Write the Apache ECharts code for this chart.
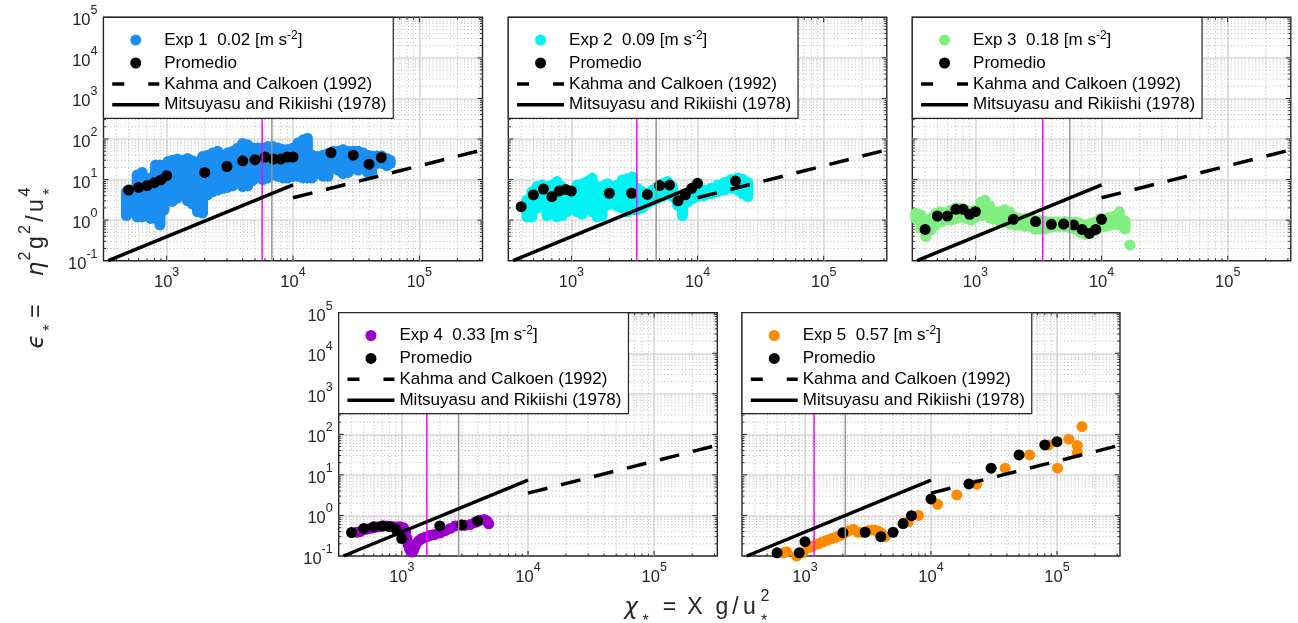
<!DOCTYPE html>
<html>
<head>
<meta charset="utf-8">
<script src="https://cdn.jsdelivr.net/npm/echarts@6/dist/echarts.min.js"></script>
<style>
  html, body { margin: 0; padding: 0; background: #fff; }
  #chart { width: 1298px; height: 623px; }
</style>
</head>
<body>
<div id="chart"></div>
<script>
// ---------------- data ----------------
const expLabels = ['Exp 1  0.02', 'Exp 2  0.09', 'Exp 3  0.18', 'Exp 4  0.33', 'Exp 5  0.57'];

// Exp 1-3: spread of the measurements at each fetch  [chi, lowest eps, highest eps]
const exp1Cols = [
  [480, 1.3, 5], [524, 1.6, 5.5], [584, 1.2, 13], [640, 1.2, 15], [702, 1.9, 9], [746, 1.1, 11],
  [818, 1.1, 23], [885, 0.76, 23], [953, 1.8, 19], [1025, 3.4, 28], [1110, 2.9, 30], [1216, 3.5, 32],
  [1332, 4.2, 30], [1460, 3.0, 33], [1600, 2.5, 29], [1755, 1.6, 27], [1923, 1.5, 37], [2107, 4.2, 40],
  [2310, 5, 45], [2530, 5.5, 50], [2775, 6, 40], [3040, 6.4, 45], [3330, 7, 50], [3650, 8.5, 60],
  [4000, 6.7, 78], [4384, 7, 72], [4804, 9.5, 60], [5265, 13, 60], [5770, 10, 60], [6322, 11, 65],
  [6930, 13, 65], [7595, 12, 60], [8325, 11, 55], [9120, 11, 55], [10000, 12, 60], [10960, 12, 80],
  [12000, 11, 94], [13000, 11, 105], [14200, 11, 40], [15570, 14, 37], [17300, 12, 40], [18940, 12, 44],
  [20760, 19, 50], [22750, 17, 50], [24930, 14, 55], [27330, 15, 50], [29950, 19, 50], [32830, 17, 50],
  [35980, 19, 45], [38960, 15, 40], [41960, 14, 38], [46000, 25, 38], [50400, 25, 38], [55300, 22, 33],
  [58800, 25, 30]
];
const exp2Cols = [
  [444, 1.2, 3.1], [486, 1.2, 5.0], [533, 1.95, 6.7], [584, 2.35, 7.3], [640, 1.3, 6.7], [702, 1.4, 7.3],
  [769, 1.2, 8.9], [843, 1.3, 6.7], [924, 1.62, 5.5], [1012, 1.9, 5.0], [1110, 1.6, 7.3], [1216, 1.4, 7.9],
  [1333, 2.0, 8.9], [1460, 1.6, 10.7], [1600, 1.2, 6.7], [1754, 1.3, 6.7], [1922, 2.35, 7.9], [2107, 2.6, 6.7],
  [2309, 2.2, 7.3], [2531, 2.0, 9.7], [2774, 1.6, 10.5], [3041, 1.8, 11.5], [3333, 1.8, 6.1], [3652, 2.0, 5.0],
  [4003, 2.6, 4.6], [4387, 3.0, 5.5], [4808, 3.4, 6.7], [5270, 3.8, 7.9], [5776, 4.2, 8.9], [6330, 3.8, 6.7],
  [6938, 2.35, 3.8], [7604, 1.3, 3.4], [8334, 2.8, 4.2], [9134, 3.4, 5.0], [10010, 3.8, 5.5], [11260, 4.0, 5.5],
  [12780, 4.4, 6.1], [14450, 5.0, 7.3], [16360, 5.5, 8.5], [18440, 6.1, 10], [20850, 5.5, 11], [22850, 4.4, 10],
  [25040, 3.8, 8.5]
];
const exp3Cols = [
  [337, 1.1, 1.47], [370, 0.63, 1.34], [405, 0.39, 1.0], [444, 0.57, 1.1], [486, 0.76, 1.47], [533, 0.9, 1.62],
  [584, 1.0, 1.5], [640, 1.0, 1.8], [702, 1.1, 2.0], [769, 1.2, 2.0], [843, 1.1, 1.8], [924, 1.0, 1.6],
  [1012, 1.2, 1.8], [1110, 1.3, 2.8], [1192, 1.4, 3.1], [1292, 1.15, 2.3], [1416, 1.05, 1.6], [1553, 0.95, 1.6],
  [1703, 0.9, 1.8], [1866, 0.8, 1.6], [2046, 0.75, 1.2], [2243, 0.75, 1.1], [2459, 0.7, 1.1], [2696, 0.7, 1.1],
  [2955, 0.6, 1.0], [3240, 0.6, 1.0], [3552, 0.6, 0.95], [3894, 0.65, 0.9], [4269, 0.7, 0.9], [4680, 0.7, 0.9],
  [5130, 0.7, 0.92], [5625, 0.65, 0.9], [6167, 0.6, 0.9], [6760, 0.5, 0.83], [7410, 0.45, 0.76], [8125, 0.47, 0.83],
  [8900, 0.55, 0.9], [9760, 0.65, 1.1], [10700, 0.7, 1.1], [11730, 0.75, 1.2], [12860, 0.8, 1.3], [13820, 0.75, 1.6],
  [15350, 0.6, 0.95], [16790, 0.245, 0.245]
];
// Exp 4-5: individual measurements [chi, eps]
const exp4Pts = [
  [439, 0.384], [467, 0.40], [496, 0.44], [527, 0.46], [560, 0.48], [596, 0.50], [633, 0.52], [673, 0.53],
  [715, 0.55], [760, 0.55], [808, 0.54], [859, 0.53], [913, 0.52], [970, 0.53], [1031, 0.50], [1076, 0.40],
  [1100, 0.27], [1123, 0.19], [1150, 0.15], [1179, 0.13], [1210, 0.125], [1238, 0.14], [1270, 0.17], [1300, 0.2],
  [1365, 0.24], [1442, 0.27], [1532, 0.29], [1628, 0.31], [1730, 0.33], [1840, 0.34], [2017, 0.37], [2210, 0.42],
  [2422, 0.48], [2654, 0.55], [2909, 0.58], [3188, 0.57], [3493, 0.6], [3828, 0.68], [4195, 0.77], [4513, 0.8],
  [4750, 0.72], [4883, 0.62]
];
const exp5Pts = [
  [680, 0.12], [714, 0.128], [858, 0.1], [960, 0.12], [1063, 0.16], [1130, 0.17], [1201, 0.187], [1280, 0.2],
  [1357, 0.218], [1440, 0.235], [1533, 0.25], [1630, 0.27], [1732, 0.284], [1840, 0.31], [1957, 0.33], [2080, 0.37],
  [2210, 0.415], [2420, 0.456], [2650, 0.384], [2900, 0.384], [3150, 0.42], [3387, 0.44], [3600, 0.43], [3830, 0.41],
  [4050, 0.36], [4325, 0.30], [6600, 0.7], [7950, 1.0], [11270, 1.89], [16030, 3.2], [23100, 5.9], [38800, 14.6],
  [60700, 31], [85900, 55], [101000, 14.6], [124000, 76], [145000, 53], [145000, 35], [158000, 156]
];

// bin averages ("Promedio")
const prom1 = [[500, 5.5], [600, 6.4], [700, 7.1], [800, 8.4], [900, 9.8], [1000, 12.5], [2000, 15], [3000, 21],
  [4000, 29], [5000, 31], [6000, 36], [7000, 32], [8000, 32], [9000, 36], [10000, 36], [20000, 46], [30000, 40],
  [40000, 24], [50000, 35]];
const prom2 = [[400, 2.15], [500, 4.2], [600, 5.85], [700, 3.8], [800, 5.2], [900, 5.7], [1000, 5.2], [2000, 4.6],
  [3000, 4.6], [4000, 4.3], [5000, 7.1], [6000, 7.3], [7000, 3.0], [8000, 4.2], [9000, 6.1], [10000, 8.1], [20000, 9.2]];
const prom3 = [[400, 0.59], [500, 1.26], [600, 1.26], [700, 1.85], [800, 1.85], [900, 1.39], [1000, 1.62], [2000, 1.05],
  [3000, 0.92], [4000, 0.79], [5000, 0.80], [6000, 0.76], [7000, 0.59], [8000, 0.47], [9000, 0.59], [10000, 1.05]];
const prom4 = [[400, 0.38], [500, 0.48], [600, 0.53], [700, 0.55], [800, 0.53], [900, 0.455], [1000, 0.27],
  [2000, 0.55], [3000, 0.58], [4000, 0.73]];
const prom5 = [[600, 0.12], [900, 0.12], [1000, 0.226], [2000, 0.377], [3000, 0.385], [4000, 0.30], [5000, 0.385],
  [6000, 0.63], [7000, 0.99], [10000, 2.55], [20000, 6.0], [30000, 14.6], [50000, 31], [80000, 55], [100000, 66]];

// reference growth curves
const kahmaLine = [[10000, 3.55], [316228, 54]];
const mitsuLine = [[345, 0.1], [10000, 7.4]];

// characteristic fetches per experiment
const magentaX = [5700, 3300, 3420, 1580, 1180];
const grayX = [6800, 4700, 5600, 2820, 2090];

// axis ranges and tick positions
const xRange = [316.2278, 316227.8];
const yRange = [0.1, 100000];
const xMajor = [1000, 10000, 100000];
const yMajor = [1, 10, 100, 1000, 10000];
const xMinor = [400, 500, 600, 700, 800, 900, 2000, 3000, 4000, 5000, 6000, 7000, 8000, 9000,
  20000, 30000, 40000, 50000, 60000, 70000, 80000, 90000, 200000, 300000];
const yMinor = [0.2, 0.3, 0.4, 0.5, 0.6, 0.7, 0.8, 0.9, 2, 3, 4, 5, 6, 7, 8, 9,
  20, 30, 40, 50, 60, 70, 80, 90, 200, 300, 400, 500, 600, 700, 800, 900,
  2000, 3000, 4000, 5000, 6000, 7000, 8000, 9000, 20000, 30000, 40000, 50000, 60000, 70000, 80000, 90000];

// ---------------- styling ----------------
const FONT = '"Liberation Sans", Arial, sans-serif';
const INK = '#262626';
const expColors = ['#1b8ef2', '#00f2f2', '#80ee80', '#9a00cc', '#ff8a00'];
const expNames = expLabels.map(l => l + ' [m s-2]');
const KAHMA = 'Kahma and Calkoen (1992)';
const MITSU = 'Mitsuyasu and Rikiishi (1978)';
const PROM = 'Promedio';

// axes boxes: [left, top, width, height]
const boxes = [
  [103.5, 17.3, 379, 243.4],
  [508.3, 17.3, 378.5, 243.4],
  [912.3, 17.3, 378.5, 243.4],
  [338.7, 312.7, 378.6, 243.3],
  [742, 312.7, 378, 243.3]
];
const showYLabels = [true, false, false, true, false];

function powLabel(v) {
  const e = Math.log10(v), n = Math.round(e);
  if (Math.abs(e - n) > 1e-6) return '';
  return '{b|10}{s|' + n + '}';
}
const powRich = {
  b: { fontFamily: FONT, fontSize: 16.5, color: INK, lineHeight: 16, padding: [7, 0, 0, 0] },
  s: { fontFamily: FONT, fontSize: 12.5, color: INK, lineHeight: 12, padding: [0, 0, 13, 0] }
};

const grids = boxes.map(b => ({
  left: b[0], top: b[1], width: b[2], height: b[3],
  show: true, backgroundColor: '#fff', borderColor: INK, borderWidth: 1.4
}));

const majorGrid = { show: true, showMinLine: false, showMaxLine: false, lineStyle: { color: '#dadada', width: 1.6 } };

const xAxes = boxes.map((b, i) => ({
  type: 'log', logBase: 10, gridIndex: i, min: xRange[0], max: xRange[1],
  axisLine: { show: false }, axisTick: { show: false },
  splitLine: majorGrid,
  axisLabel: { formatter: powLabel, rich: powRich, margin: 10, showMinLabel: false, showMaxLabel: false }
}));
const yAxes = boxes.map((b, i) => ({
  type: 'log', logBase: 10, gridIndex: i, min: yRange[0], max: yRange[1],
  axisLine: { show: false }, axisTick: { show: false },
  splitLine: majorGrid,
  axisLabel: { show: showYLabels[i], formatter: powLabel, rich: powRich, margin: 6 }
}));

// dotted minor grid plus inward tick marks on all four sides
const minorStyle = { stroke: '#a6a6a6', lineWidth: 0.8, lineDash: [1, 2.5] };
function gridMarks(i, values, dir, minor) {
  return {
    type: 'custom', xAxisIndex: i, yAxisIndex: i, silent: true, z: 1,
    data: values.map(v => dir === 'x' ? [v, 1] : [1000, v]),
    renderItem(params, api) {
      const cs = params.coordSys;
      const p = api.coord([api.value(0), api.value(1)]);
      const tl = minor ? 2.5 : 5;
      const tick = { stroke: INK, lineWidth: 1 };
      const kids = [];
      if (dir === 'x') {
        const x = p[0], y0 = cs.y, y1 = cs.y + cs.height;
        if (minor) kids.push({ type: 'line', shape: { x1: x, y1: y0, x2: x, y2: y1 }, style: minorStyle });
        kids.push({ type: 'line', shape: { x1: x, y1: y1, x2: x, y2: y1 - tl }, style: tick });
        kids.push({ type: 'line', shape: { x1: x, y1: y0, x2: x, y2: y0 + tl }, style: tick });
      } else {
        const y = p[1], x0 = cs.x, x1 = cs.x + cs.width;
        if (minor) kids.push({ type: 'line', shape: { x1: x0, y1: y, x2: x1, y2: y }, style: minorStyle });
        kids.push({ type: 'line', shape: { x1: x0, y1: y, x2: x0 + tl, y2: y }, style: tick });
        kids.push({ type: 'line', shape: { x1: x1, y1: y, x2: x1 - tl, y2: y }, style: tick });
      }
      return { type: 'group', children: kids };
    }
  };
}

// spread of measurements at one fetch drawn as a run of overlapping markers
function columnSeries(i, cols) {
  const color = expColors[i];
  return {
    type: 'custom', name: expNames[i], xAxisIndex: i, yAxisIndex: i,
    itemStyle: { color },
    encode: { x: 0, y: [1, 2] },
    data: cols,
    renderItem(params, api) {
      const top = api.coord([api.value(0), api.value(2)]);
      const bot = api.coord([api.value(0), api.value(1)]);
      const r = 5.5;
      return { type: 'rect',
        shape: { x: top[0] - r, y: top[1] - r, width: 2 * r, height: bot[1] - top[1] + 2 * r, r: r },
        style: { fill: color } };
    }
  };
}
function pointSeries(i, pts) {
  return {
    type: 'scatter', name: expNames[i], xAxisIndex: i, yAxisIndex: i,
    symbol: 'circle', symbolSize: 11, itemStyle: { color: expColors[i], opacity: 1 }, data: pts
  };
}
function vline(i, x, color) {
  return {
    type: 'line', xAxisIndex: i, yAxisIndex: i, silent: true, symbol: 'none',
    lineStyle: { color, width: 1.5 }, data: [[x, yRange[0]], [x, yRange[1]]]
  };
}

const expSeries = [
  columnSeries(0, exp1Cols), columnSeries(1, exp2Cols), columnSeries(2, exp3Cols),
  pointSeries(3, exp4Pts), pointSeries(4, exp5Pts)
];
const proms = [prom1, prom2, prom3, prom4, prom5];

const series = [];
boxes.forEach((b, i) => {
  series.push(gridMarks(i, xMinor, 'x', true), gridMarks(i, yMinor, 'y', true),
              gridMarks(i, xMajor, 'x', false), gridMarks(i, yMajor, 'y', false));
  series.push(expSeries[i]);
  series.push(vline(i, magentaX[i], '#ff00ff'), vline(i, grayX[i], '#969696'));
  series.push({ type: 'line', name: KAHMA, xAxisIndex: i, yAxisIndex: i, symbol: 'none',
    itemStyle: { color: '#000' }, lineStyle: { color: '#000', width: 3.5, type: [20, 14] }, data: kahmaLine });
  series.push({ type: 'line', name: MITSU, xAxisIndex: i, yAxisIndex: i, symbol: 'none',
    itemStyle: { color: '#000' }, lineStyle: { color: '#000', width: 3.5 }, data: mitsuLine });
  series.push({ type: 'scatter', name: PROM, xAxisIndex: i, yAxisIndex: i, symbol: 'circle',
    symbolSize: 11, itemStyle: { color: '#000', opacity: 1 }, data: proms[i] });
});

function legendText(name) {
  const m = name.match(/^(.*) \[m s-2\]$/);
  return m ? '{t|' + m[1] + ' [m s}{p|-2}{t|]}' : name;
}
const legends = boxes.map((b, i) => ({
  orient: 'vertical', left: b[0], top: b[1], selectedMode: false,
  backgroundColor: '#fff', borderColor: INK, borderWidth: 1.2,
  padding: [12.3, 5, 5, 7], itemWidth: 47, itemHeight: 11, itemGap: 3.9,
  lineStyle: { width: 3.5 },
  textStyle: {
    fontFamily: FONT, fontSize: 17, color: '#000', lineHeight: 16, width: 224,
    rich: {
      t: { fontFamily: FONT, fontSize: 17, color: '#000', lineHeight: 16 },
      p: { fontFamily: FONT, fontSize: 12, color: '#000', lineHeight: 7, padding: [0, 0, 9, 0] }
    }
  },
  formatter: legendText,
  data: [
    { name: expNames[i], icon: 'circle', itemStyle: { color: expColors[i], borderWidth: 0, opacity: 1 } },
    { name: PROM, icon: 'circle', itemStyle: { color: '#000', borderWidth: 0, opacity: 1 } },
    { name: KAHMA, itemStyle: { opacity: 0 }, lineStyle: { type: [12, 24], width: 3.5, color: '#000' } },
    { name: MITSU, itemStyle: { opacity: 0 }, lineStyle: { width: 3.5, color: '#000' } }
  ]
}));

// axis titles built from fixed-width glyph cells
const titleKinds = {
  m: { font: '23px ' + FONT, fill: INK, lineHeight: 26, align: 'center' },
  g: { font: 'italic 23px "DejaVu Sans"', fill: INK, lineHeight: 26, align: 'center' },
  p: { font: '16px ' + FONT, fill: INK, lineHeight: 16, padding: [0, 0, 22, 0], align: 'center' },
  s: { font: '16px ' + FONT, fill: INK, lineHeight: 16, padding: [28, 0, 0, 0], align: 'center' }
};
function richTitle(parts) {
  const rich = {}; let text = '';
  parts.forEach((pt, k) => {
    const key = 'k' + k;
    rich[key] = Object.assign({}, titleKinds[pt[0]], { width: pt[2] });
    text += '{' + key + '|' + pt[1] + '}';
  });
  return { text, rich };
}
const xTitle = richTitle([['g', 'χ', 16], ['s', '*', 13], ['m', '=', 35], ['m', 'X', 16], ['m', ' ', 12],
  ['m', 'g', 14], ['m', '/', 13], ['m', 'u', 15], ['p', '2', 16]]);
const yTitle = richTitle([['g', 'ϵ', 17], ['s', '*', 10], ['m', '=', 24], ['m', ' ', 23], ['g', 'η', 14],
  ['p', '2', 12], ['m', 'g', 15], ['p', '2', 11], ['m', '/', 11], ['m', 'u', 15], ['p', '4', 12]]);
const starSub = richTitle([['s', '*', 10]]);

const graphic = { elements: [
  { type: 'text', x: 623, y: 608, silent: true,
    style: { text: xTitle.text, rich: xTitle.rich, align: 'left', verticalAlign: 'middle', font: '23px ' + FONT, fill: INK } },
  { type: 'text', x: 764, y: 608, silent: true,
    style: { text: starSub.text, rich: starSub.rich, align: 'center', verticalAlign: 'middle', font: '23px ' + FONT, fill: INK } },
  { type: 'text', x: 37, y: 350, rotation: Math.PI / 2, silent: true,
    style: { text: yTitle.text, rich: yTitle.rich, align: 'left', verticalAlign: 'middle', font: '23px ' + FONT, fill: INK } },
  { type: 'text', x: 37, y: 192, rotation: Math.PI / 2, silent: true,
    style: { text: starSub.text, rich: starSub.rich, align: 'center', verticalAlign: 'middle', font: '23px ' + FONT, fill: INK } }
] };

const chart = echarts.init(document.getElementById('chart'), null, { renderer: 'canvas' });
chart.setOption({
  animation: false,
  backgroundColor: '#fff',
  grid: grids,
  xAxis: xAxes,
  yAxis: yAxes,
  legend: legends,
  series: series,
  graphic: graphic
});
</script>
</body>
</html>
